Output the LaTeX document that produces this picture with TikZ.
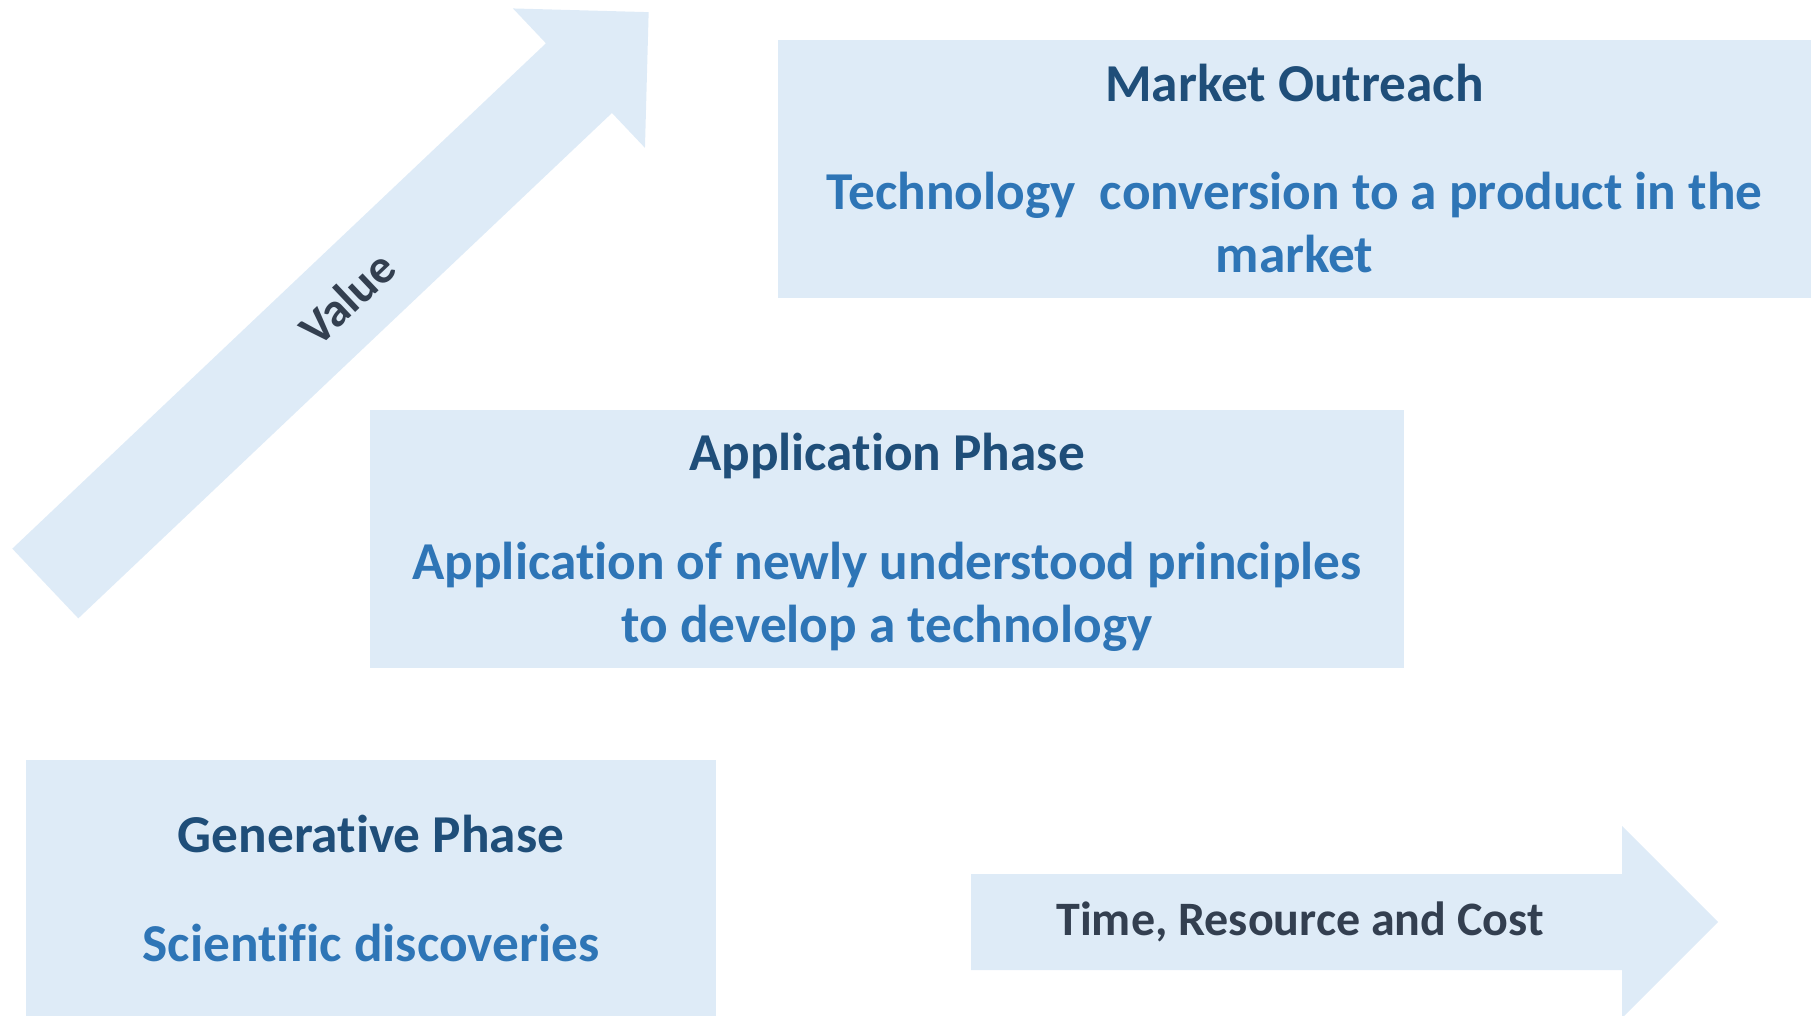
\documentclass[tikz,border=0pt]{standalone}
\usepackage{fontspec}
\setmainfont{Carlito}[Ligatures=NoCommon]
\usetikzlibrary{positioning, calc}
\definecolor{phasefill}{HTML}{DEEBF7}
\definecolor{titleblue}{HTML}{1F4E79}
\definecolor{bodyblue}{HTML}{2E75B6}
\definecolor{axisgray}{HTML}{333F50}

\begin{document}
\begin{tikzpicture}[x=1pt,y=-1pt,
    phase/.style={fill=phasefill,inner sep=0pt,minimum height=258pt},
    title/.style={anchor=base,text=titleblue,font=\fontsize{53.3}{62}\selectfont\bfseries},
    body/.style={anchor=base,text=bodyblue,font=\fontsize{53.3}{62}\selectfont\bfseries},
    axislabel/.style={text=axisgray,font=\fontsize{48}{56}\selectfont\bfseries,inner sep=0pt}]

\clip (0,0) rectangle (1820,1015);

\node[phase,minimum width=1033pt] (market)      at (1294.5,169) {};
\node[phase,minimum width=1034pt] (application) at (887,539)    {};
\node[phase,minimum width=690pt]  (generative)  at (371,889)    {};

\node[title] (marketTitle) at ($(market.north)+(0,62)$)  {Market Outreach};
\node[body]  (marketText1) at ($(market.north)+(0,170)$) {Technology~ conversion to a product in the};
\node[body]  (marketText2) at ($(market.north)+(0,233)$) {market};

\node[title] (applicationTitle) at ($(application.north)+(0,61)$)  {Application Phase};
\node[body]  (applicationText1) at ($(application.north)+(0,170)$) {Application of newly understood principles};
\node[body]  (applicationText2) at ($(application.north)+(0,233)$) {to develop a technology};

\node[title] (generativeTitle) at ($(generative.north)+(0,93)$)  {Generative Phase};
\node[body]  (generativeText)  at ($(generative.north)+(0,202)$) {Scientific discoveries};

\begin{scope}[shift={(45.3,583.5)},rotate=43.44]
  \fill[phasefill] (0,-48) -- (735,-48) -- (735,-96) -- (831,0) -- (735,96) -- (735,48) -- (0,48) -- cycle;
  \node[axislabel,rotate=43.44] (value) at (415.5,0) {Value};
\end{scope}

\begin{scope}[shift={(971,922)}]
  \fill[phasefill] (0,-48) -- (651,-48) -- (651,-96) -- (747,0) -- (651,96) -- (651,48) -- (0,48) -- cycle;
  \node[axislabel] (cost) at (329,0) {Time, Resource and Cost};
\end{scope}
\end{tikzpicture}
\end{document}
